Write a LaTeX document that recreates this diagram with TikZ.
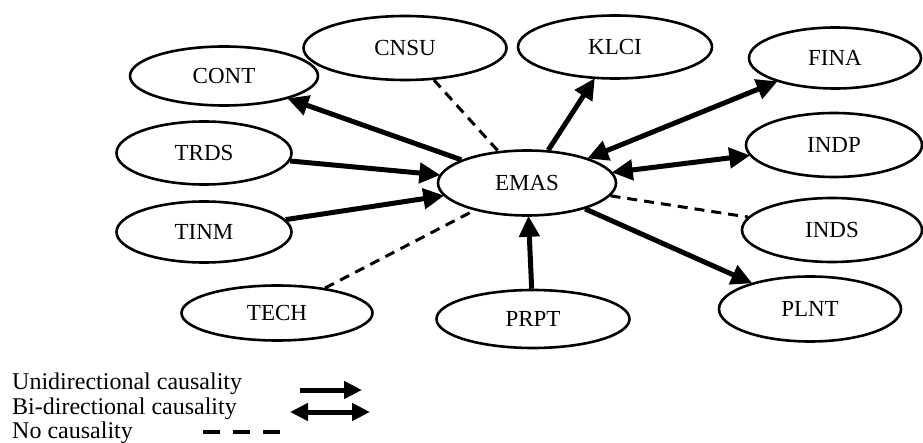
\documentclass[tikz,border=0pt]{standalone}
\usepackage{fontspec}
\setmainfont{Liberation Serif}
\usetikzlibrary{shapes.geometric,arrows.meta}
\begin{document}
\begin{tikzpicture}[x=1pt,y=-1pt,
  ell/.style={ellipse,draw,line width=2.6pt,inner sep=0pt,font=\fontsize{23}{27}\selectfont},
  uni/.style={line width=5pt,-{Triangle[length=21pt,width=20pt]},shorten >=-1pt},
  bi/.style={line width=5pt,{Triangle[length=21pt,width=20pt]}-{Triangle[length=21pt,width=20pt]},shorten >=-1pt,shorten <=-1pt},
  nocaus/.style={line width=3pt,dash pattern=on 10pt off 7pt},
  legtxt/.style={anchor=base west,inner sep=0pt,font=\fontsize{24}{28}\selectfont}]
\useasboundingbox (0,0) rectangle (923,443);
\node[ell,minimum width=188pt,minimum height=59pt] (CONT) at (224,76) {CONT};
\node[ell,minimum width=203pt,minimum height=64pt] (CNSU) at (405,48) {CNSU};
\node[ell,minimum width=194pt,minimum height=63pt] (KLCI) at (615,47) {KLCI};
\node[ell,minimum width=172pt,minimum height=61pt] (FINA) at (835,58) {FINA};
\node[ell,minimum width=175pt,minimum height=63pt] (TRDS) at (204,153) {TRDS};
\node[ell,minimum width=178pt,minimum height=65pt] (EMAS) at (527,183) {EMAS};
\node[ell,minimum width=176pt,minimum height=64pt] (INDP) at (834,145) {INDP};
\node[ell,minimum width=175pt,minimum height=61pt] (TINM) at (204,232) {TINM};
\node[ell,minimum width=180pt,minimum height=64pt] (INDS) at (832,230) {INDS};
\node[ell,minimum width=191pt,minimum height=55pt] (TECH) at (277,313) {TECH};
\node[ell,minimum width=193pt,minimum height=58pt] (PRPT) at (533,319) {PRPT};
\node[ell,minimum width=182pt,minimum height=65pt] (PLNT) at (810,309) {PLNT};

\draw[uni] (EMAS) -- (CONT);
\draw[nocaus] (CNSU) -- (EMAS);
\draw[uni] (EMAS) -- (KLCI);
\draw[bi] (EMAS) -- (FINA);
\draw[bi] (EMAS) -- (INDP);
\draw[nocaus] (EMAS) -- (INDS);
\draw[uni] (EMAS) -- (PLNT);
\draw[uni] (TRDS) -- (EMAS);
\draw[uni] (TINM) -- (EMAS);
\draw[nocaus] (TECH) -- (EMAS);
\draw[uni] (PRPT) -- (EMAS);

\node[legtxt] (L1) at (12,389) {Unidirectional causality};
\node[legtxt] (L2) at (12,414) {Bi-directional causality};
\node[legtxt] (L3) at (12,438) {No causality};
\coordinate (u1) at (300,390); \coordinate (u2) at (362,390);
\coordinate (b1) at (290,412); \coordinate (b2) at (370,412);
\coordinate (d1) at (203,432); \coordinate (d2) at (280,432);
\draw[line width=5pt,-{Triangle[length=18pt,width=17pt]}] (u1) -- (u2);
\draw[line width=5pt,{Triangle[length=18pt,width=17pt]}-{Triangle[length=18pt,width=17pt]}] (b1) -- (b2);
\draw[line width=4pt,dash pattern=on 17pt off 13pt] (d1) -- (d2);
\end{tikzpicture}
\end{document}
